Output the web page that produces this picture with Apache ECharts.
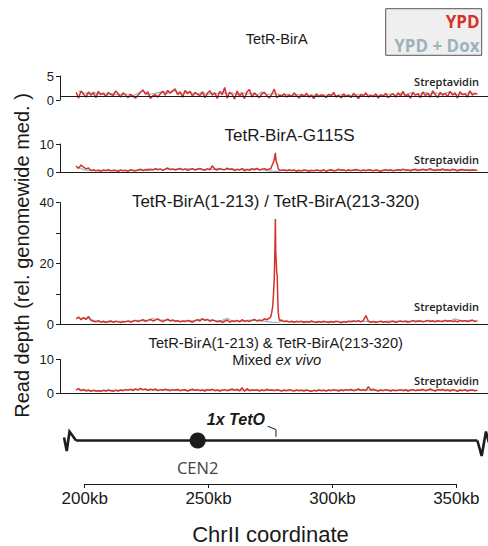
<!DOCTYPE html>
<html>
<head>
<meta charset="utf-8">
<script src="https://cdn.jsdelivr.net/npm/echarts@6/dist/echarts.min.js"></script>
<style>
  html, body { margin: 0; padding: 0; background: #fff; }
  #chart { width: 488px; height: 546px; }
</style>
</head>
<body>
<div id="chart"></div>
<script>
// ---- Read-depth tracks along ChrII (1 kb bins for YPD, 2 kb bins for YPD + Dox) ----
const ypdBinStartKb = 196.5, ypdBinStepKb = 1;
const doxBinStartKb = 197.5, doxBinStepKb = 2;

const panelTitles = ['TetR-BirA', 'TetR-BirA-G115S', 'TetR-BirA(1-213) / TetR-BirA(213-320)', 'TetR-BirA(1-213) & TetR-BirA(213-320)'];
const panelYMax = [5, 10, 40, 10];
const panelYStep = [5, 10, 10, 10];
const panelRefLevel = [0.7, 0, 0, 0];
const xTickLabelsKb = [200, 250, 300, 350];

const ypdBirA = [
  1.6, 0.4, 1.9, 1.2, 0.6, 1.7, 1.0, 1.5, 0.5, 1.8,
  1.1, 1.4, 0.7, 1.6, 1.2, 0.9, 1.9, 1.3, 0.6, 1.5,
  1.0, 0.5, 1.2, 0.8, 0.4, 1.0, 1.6, 2.1, 1.2, 1.7,
  0.3, 0.9, 1.1, 0.6, 1.3, 1.8, 1.0, 2.0, 1.4, 1.9,
  2.3, 1.1, 1.7, 0.6, 2.0, 1.3, 1.8, 0.8, 1.6, 1.2,
  0.9, 1.7, 0.5, 1.4, 1.9, 1.0, 1.5, 0.3, 1.8, 1.1,
  2.6, 0.4, 1.6, 1.2, 0.2, 1.9, 0.8, 1.4, 0.3, 1.7,
  2.2, 0.6, 1.5, 1.0, 0.5, 1.3, 1.6, 0.9, 0.4, 1.2,
  2.3, 0.5, 1.0, 0.8, 1.3, 0.6, 1.1, 0.7, 1.5, 0.9,
  0.4, 1.2, 0.8, 1.4, 0.6, 1.0, 0.3, 1.3, 0.7, 1.1,
  0.9, 0.5, 1.2, 0.8, 1.6, 0.6, 1.0, 0.4, 1.3, 0.7,
  1.1, 0.5, 1.4, 0.9, 0.3, 1.2, 0.8, 1.5, 0.6, 1.0,
  0.7, 1.3, 0.4, 1.1, 0.8, 1.4, 0.5, 1.0, 1.3, 0.6,
  1.5, 0.8, 1.8, 0.7, 1.2, 0.4, 1.6, 1.0, 1.3, 0.5,
  1.7, 0.9, 1.4, 0.6, 1.9, 1.1, 0.5, 1.6, 1.0, 1.4,
  0.7, 1.8, 1.0, 1.5, 0.4, 1.7, 1.1, 1.3, 0.6, 1.9,
  1.0, 1.4, 1.2
];
const doxBirA = [
  1.9, 1.5, 1.3, 1.6, 1.2, 1.5, 1.1, 1.4, 1.0, 1.3,
  1.2, 0.9, 1.4, 1.9, 1.1, 1.3, 1.5, 1.8, 1.4, 2.0,
  1.6, 1.3, 1.7, 1.4, 1.2, 1.6, 1.1, 1.5, 1.3, 1.7,
  1.3, 1.5, 1.1, 1.6, 1.2, 1.4, 1.0, 1.7, 1.1, 1.3,
  1.3, 1.0, 1.2, 0.9, 1.1, 1.0, 0.8, 1.1, 0.9, 1.0,
  1.0, 1.2, 0.9, 1.1, 1.0, 0.8, 1.1, 1.0, 1.2, 0.9,
  1.1, 0.9, 1.1, 1.3, 1.0, 1.4, 1.1, 1.5, 1.1, 1.3,
  1.6, 1.2, 1.5, 1.2, 1.4, 1.7, 1.1, 1.3, 1.2, 1.6,
  1.3
];

const ypdG115S = [
  2.2, 1.4, 2.6, 1.8, 1.2, 1.5, 0.6, 0.9, 0.5, 0.7,
  0.4, 0.8, 0.6, 0.9, 0.5, 0.7, 0.6, 0.3, 0.8, 0.5,
  0.7, 0.4, 0.9, 0.6, 0.5, 0.8, 1.1, 0.6, 0.9, 0.7,
  1.0, 0.8, 1.3, 0.9, 1.2, 0.7, 1.1, 1.5, 0.9, 1.2,
  0.8, 1.1, 1.4, 0.9, 1.2, 0.7, 1.0, 1.3, 0.8, 1.1,
  1.4, 1.0, 0.7, 1.2, 0.9, 2.3, 1.1, 0.8, 1.3, 1.0,
  0.9, 1.5, 1.0, 1.2, 0.6, 1.1, 0.8, 1.3, 0.5, 1.0,
  0.7, 1.2, 0.9, 1.4, 0.8, 1.1, 1.3, 0.9, 1.2, 1.0,
  1.0, 1.0, 1.0, 0.7, 0.8, 0.5, 0.9, 0.6, 0.8, 0.4,
  0.7, 0.5, 0.8, 0.6, 0.4, 0.7, 0.5, 0.8, 0.6, 0.5,
  0.8, 0.4, 0.7, 0.9, 0.5, 0.6, 1.1, 0.7, 0.8, 0.5,
  0.9, 0.6, 0.8, 1.0, 0.7, 0.5, 0.8, 0.6, 0.9, 0.7,
  0.5, 0.8, 0.6, 0.4, 0.7, 0.9, 0.6, 0.8, 0.5, 0.7,
  0.9, 0.6, 1.1, 0.7, 0.8, 0.5, 0.9, 1.0, 0.6, 0.8,
  1.1, 0.7, 0.9, 1.3, 0.8, 0.6, 1.0, 0.8, 1.2, 0.7,
  0.9, 0.6, 1.1, 0.8, 0.5, 0.9, 1.0, 0.7, 0.8, 0.6,
  0.9, 0.7, 0.8
];
const doxG115S = [
  1.8, 0.9, 0.7, 0.6, 0.8, 0.6, 0.7, 0.6, 0.8, 0.7,
  0.6, 0.8, 0.7, 0.9, 1.2, 1.0, 1.1, 0.9, 1.2, 1.0,
  1.1, 0.9, 1.3, 1.0, 1.1, 0.9, 1.2, 1.0, 1.4, 1.1,
  1.0, 1.2, 0.9, 1.1, 1.0, 1.3, 1.1, 0.9, 0.6, 0.4,
  0.3, 0.7, 0.8, 0.6, 0.7, 0.5, 0.8, 0.6, 0.7, 0.8,
  0.6, 0.8, 0.7, 0.9, 0.7, 0.6, 0.8, 0.7, 0.6, 0.8,
  0.7, 0.6, 0.8, 0.9, 0.7, 1.0, 0.8, 0.9, 1.1, 0.8,
  1.0, 0.8, 0.9, 0.7, 0.9, 0.8, 1.0, 0.7, 0.8, 0.9,
  0.8
];
// finer sampling across the TetO site
const peakKb = [275.1, 275.5, 275.9, 276.2, 276.5, 276.8, 276.95, 277.1, 277.3, 277.5, 277.7, 277.9, 278.1, 278.4, 278.8];
const peakG115S = [1.2, 2.2, 3.0, 3.6, 4.4, 6.0, 6.9, 5.2, 3.8, 3.4, 3.0, 2.0, 1.4, 1.0, 0.7];

const ypdSplit = [
  1.8, 2.4, 1.5, 2.2, 1.6, 2.6, 1.3, 1.0, 0.8, 1.2,
  0.7, 1.0, 0.6, 0.9, 1.1, 0.7, 1.0, 0.8, 0.6, 0.9,
  0.8, 1.1, 0.7, 1.0, 1.3, 0.9, 1.2, 1.5, 1.0, 1.3,
  1.6, 1.1, 1.4, 1.8, 1.2, 0.9, 1.3, 1.7, 1.1, 1.4,
  1.0, 1.2, 0.8, 1.1, 0.9, 1.3, 1.0, 0.7, 1.2, 1.5,
  1.1, 1.8, 1.3, 1.6, 1.0, 1.4, 1.2, 0.8, 1.1, 0.6,
  1.0, 1.4, 0.7, 1.1, 0.9, 1.3, 0.8, 1.5, 1.0, 1.2,
  0.9, 1.3, 1.6, 1.1, 1.4, 1.2, 1.8, 1.5, 2.0, 2.3,
  1.5, 1.2, 1.0, 1.4, 0.9, 1.1, 0.8, 1.0, 0.7, 0.9,
  0.8, 1.0, 0.6, 0.9, 0.7, 1.1, 0.8, 0.6, 0.9, 0.7,
  1.0, 0.8, 0.6, 0.9, 0.7, 1.0, 0.8, 0.5, 0.9, 0.7,
  1.0, 0.8, 1.1, 0.9, 1.2, 0.8, 1.3, 2.9, 1.0, 0.7,
  0.9, 0.6, 0.8, 1.0, 0.7, 0.9, 0.6, 0.8, 1.0, 0.7,
  0.9, 1.1, 0.8, 1.0, 0.7, 0.9, 1.2, 0.8, 1.0, 1.1,
  0.8, 1.0, 1.3, 0.9, 1.1, 0.8, 1.2, 1.0, 0.9, 1.3,
  1.0, 1.2, 0.9, 1.1, 0.8, 1.3, 1.0, 1.2, 0.9, 1.1,
  1.4, 0.9, 1.2
];
const doxSplit = [
  2.0, 1.9, 2.0, 1.3, 0.9, 0.8, 0.7, 0.9, 1.0, 0.9,
  1.0, 1.1, 1.3, 1.2, 1.4, 1.9, 1.5, 1.4, 1.3, 1.2,
  1.1, 1.0, 1.2, 1.1, 1.4, 1.8, 1.5, 1.3, 1.1, 1.3,
  2.0, 1.1, 1.2, 1.0, 1.3, 1.4, 1.2, 1.1, 0.9, 0.7,
  0.6, 1.0, 0.9, 0.8, 1.0, 0.9, 0.7, 0.8, 0.9, 0.8,
  0.9, 0.8, 1.0, 0.9, 0.8, 1.1, 1.0, 0.9, 1.0, 0.9,
  0.8, 1.0, 0.9, 1.1, 1.0, 0.9, 1.1, 1.0, 1.2, 1.1,
  1.0, 1.2, 1.1, 1.0, 1.3, 1.1, 1.8, 1.2, 1.1, 1.3,
  1.1
];
const peakSplit = [2.5, 4.0, 6.0, 10.0, 15.0, 26.0, 34.6, 24.0, 20.5, 17.0, 16.0, 9.0, 4.0, 2.0, 1.2];

const ypdMixed = [
  0.9, 1.3, 0.7, 1.1, 0.6, 0.9, 0.5, 0.8, 0.6, 0.7,
  0.5, 0.8, 0.6, 0.9, 0.7, 0.5, 0.8, 0.6, 0.9, 0.7,
  1.0, 0.8, 1.1, 0.7, 1.2, 0.9, 1.4, 1.0, 1.2, 0.8,
  1.1, 0.9, 1.2, 0.7, 1.0, 0.8, 1.1, 0.9, 0.7, 1.0,
  0.8, 1.1, 0.7, 0.9, 1.0, 0.6, 0.9, 1.1, 0.8, 1.0,
  0.7, 0.9, 0.6, 1.0, 0.8, 1.1, 0.7, 0.9, 0.6, 0.8,
  1.0, 0.7, 0.9, 1.2, 0.8, 1.1, 0.6, 1.6, 0.5, 1.3,
  0.7, 0.9, 0.8, 1.0, 0.6, 0.9, 0.7, 1.1, 0.8, 0.9,
  0.7, 1.0, 0.8, 0.6, 0.9, 0.7, 1.0, 0.8, 0.6, 0.9,
  0.7, 0.8, 0.6, 0.9, 0.7, 0.5, 0.8, 0.6, 0.9, 0.7,
  0.8, 0.6, 0.9, 0.7, 1.0, 0.8, 0.6, 0.9, 0.7, 1.0,
  0.8, 1.1, 0.7, 0.9, 1.2, 0.8, 1.0, 0.7, 1.9, 0.9,
  1.1, 0.8, 0.6, 0.9, 0.7, 1.0, 0.8, 0.6, 0.9, 0.7,
  0.8, 1.0, 0.7, 0.9, 0.6, 0.8, 1.0, 0.7, 0.9, 0.8,
  1.1, 0.7, 0.9, 1.2, 0.8, 0.6, 1.0, 0.8, 1.1, 0.7,
  0.9, 0.6, 1.0, 0.8, 0.5, 0.9, 0.7, 1.0, 0.6, 0.8,
  0.9, 0.7, 0.8
];
const doxMixed = [
  0.9, 0.8, 0.7, 0.8, 0.7, 0.8, 0.7, 0.9, 0.8, 0.9,
  1.0, 1.1, 1.0, 0.9, 1.0, 0.9, 0.8, 0.9, 1.0, 0.9,
  0.8, 0.9, 0.8, 0.9, 0.8, 0.9, 1.0, 0.9, 0.8, 0.9,
  0.9, 1.0, 0.8, 0.9, 0.8, 0.9, 0.8, 0.9, 0.8, 0.9,
  0.8, 0.7, 0.8, 0.7, 0.8, 0.9, 0.8, 0.7, 0.8, 0.9,
  0.8, 0.9, 0.8, 1.0, 0.9, 0.8, 0.9, 0.8, 0.9, 0.8,
  0.8, 0.9, 0.8, 0.9, 0.8, 0.9, 1.0, 0.9, 0.8, 0.9,
  0.8, 0.9, 0.8, 0.9, 0.8, 0.9, 0.8, 0.9, 0.8, 0.9,
  0.8
];

// ---- Chromosome schematic features (kb) ----
const chromSpanKb = [196.5, 358.5];
const cen2Kb = 245.6;
const tetOKb = 277.2;

// ---- helpers ----
function binned(values, startKb, stepKb) {
  return values.map((v, i) => [startKb + i * stepKb, v]);
}
function withPeak(pairs, kbs, vals) {
  if (!kbs) return pairs;
  const lo = kbs[0], hi = kbs[kbs.length - 1];
  return pairs.filter(p => p[0] < lo || p[0] > hi)
    .concat(kbs.map((k, i) => [k, vals[i]]))
    .sort((a, b) => a[0] - b[0]);
}

const ypdTracks = [
  binned(ypdBirA, ypdBinStartKb, ypdBinStepKb),
  withPeak(binned(ypdG115S, ypdBinStartKb, ypdBinStepKb), peakKb, peakG115S),
  withPeak(binned(ypdSplit, ypdBinStartKb, ypdBinStepKb), peakKb, peakSplit),
  binned(ypdMixed, ypdBinStartKb, ypdBinStepKb)
];
const doxTracks = [doxBirA, doxG115S, doxSplit, doxMixed].map(v => binned(v, doxBinStartKb, doxBinStepKb));

const RED = '#d4322a';
const GRAY = '#9db3bb';
const INK = '#1a1a1a';
const SANS = '"Liberation Sans", Arial, Helvetica, sans-serif';
const MYRIAD = '"Open Sans", "Liberation Sans", sans-serif';

// panel frames (px)
const panelTop = [76, 144, 202.7, 359.5];
const panelBottom = [100, 172.3, 324.3, 393];
const plotLeft = 60, plotWidth = 428;
const xMinKb = 190, xMaxKb = 362.8;

const grid = [], xAxis = [], yAxis = [], series = [];
for (let i = 0; i < 4; i++) {
  grid.push({ left: plotLeft, top: panelTop[i], width: plotWidth, height: panelBottom[i] - panelTop[i] });
  xAxis.push({ gridIndex: i, type: 'value', min: xMinKb, max: xMaxKb, show: false });
  yAxis.push({
    gridIndex: i, type: 'value', min: 0, max: panelYMax[i], interval: panelYStep[i],
    axisLine: { show: true, lineStyle: { color: INK, width: 1 } },
    axisTick: { show: true, length: 4, lineStyle: { color: INK, width: 1 } },
    splitLine: { show: false },
    axisLabel: {
      margin: 6, fontSize: 13, fontFamily: SANS, color: INK,
      formatter: v => (i === 2 && v % 20 !== 0) ? '' : String(v)
    }
  });
  series.push({
    name: 'YPD + Dox', type: 'line', xAxisIndex: i, yAxisIndex: i, data: doxTracks[i],
    showSymbol: false, symbol: 'none', lineStyle: { color: GRAY, width: 1.2 }, z: 2, animation: false
  });
  series.push({
    name: 'YPD', type: 'line', xAxisIndex: i, yAxisIndex: i, data: ypdTracks[i],
    showSymbol: false, symbol: 'none', lineStyle: { color: RED, width: 1.5 }, z: 3, animation: false
  });
  series.push({
    type: 'line', xAxisIndex: i, yAxisIndex: i, data: [], z: 4, animation: false,
    markLine: {
      silent: true, symbol: ['none', 'none'], animation: false,
      label: { show: false },
      lineStyle: { color: INK, width: 1, type: 'solid' },
      data: [{ yAxis: panelRefLevel[i] }]
    }
  });
}

// coordinate axis + schematic
grid.push({ left: 84.7, top: 400, width: 371.6, height: 85 });
xAxis.push({
  gridIndex: 4, type: 'value', min: xTickLabelsKb[0], max: xTickLabelsKb[xTickLabelsKb.length - 1], interval: 50,
  position: 'bottom',
  axisLine: { show: true, onZero: false, lineStyle: { color: INK, width: 1 } },
  axisTick: { show: true, length: 4, lineStyle: { color: INK } },
  splitLine: { show: false },
  axisLabel: { margin: 6, fontSize: 17, fontFamily: SANS, color: INK, formatter: '{value}kb' },
  name: 'ChrII coordinate', nameLocation: 'middle', nameGap: 39,
  nameTextStyle: { fontSize: 22, fontFamily: SANS, color: INK }
});
yAxis.push({ gridIndex: 4, type: 'value', min: -44, max: 41, show: false });

series.push({
  type: 'custom', xAxisIndex: 4, yAxisIndex: 4, clip: false, animation: false, silent: true,
  data: [[chromSpanKb[0], chromSpanKb[1], cen2Kb, tetOKb]],
  renderItem: function (params, api) {
    const a = api.coord([api.value(0), 0]);
    const b = api.coord([api.value(1), 0]);
    const c = api.coord([api.value(2), 0]);
    const t = api.coord([api.value(3), 0]);
    const stroke = { stroke: '#1c1c1c', lineWidth: 2.6, fill: null, lineJoin: 'miter' };
    const rel = (p, pts) => pts.map(q => [p[0] + q[0], p[1] + q[1]]);
    return {
      type: 'group',
      children: [
        { type: 'line', shape: { x1: a[0], y1: a[1], x2: b[0], y2: b[1] }, style: stroke },
        { type: 'polyline', shape: { points: rel(a, [[0, 0], [-6.5, -9], [-9.3, 10.5], [-12, -3]]) }, style: stroke },
        { type: 'polyline', shape: { points: rel(b, [[0, 0], [4.3, 15.5], [8.6, -9], [11.5, 2]]) }, style: stroke },
        { type: 'circle', shape: { cx: c[0], cy: c[1], r: 8 }, style: { fill: '#1c1c1c' } },
        { type: 'text', x: c[0], y: c[1] + 27, style: { text: 'CEN2', fill: '#444', fontSize: 16.5, fontFamily: MYRIAD, align: 'center', verticalAlign: 'middle' } },
        { type: 'polyline', shape: { points: rel(t, [[-8.3, -14.3], [0, -11], [0, -3.7]]) }, style: { stroke: '#1c1c1c', lineWidth: 1, fill: null } },
        { type: 'text', x: t[0] - 11, y: t[1] - 21, style: { text: '1x TetO', fill: INK, fontSize: 16, fontStyle: 'italic', fontWeight: 'bold', fontFamily: SANS, align: 'right', verticalAlign: 'middle' } }
      ]
    };
  }
});

// titles, axis title, legend and stain labels
const txt = (x, y, text, style) => ({
  type: 'text', x: x, y: y, silent: true,
  style: Object.assign({ text: text, fill: INK, fontFamily: SANS, align: 'center', verticalAlign: 'middle' }, style)
});
const stainStyle = { fontSize: 11, fontWeight: 600, fontFamily: MYRIAD, fill: '#222', align: 'right' };
const graphic = [
  txt(276.7, 39, panelTitles[0], { fontSize: 14.5 }),
  txt(289.5, 135, panelTitles[1], { fontSize: 17 }),
  txt(275.8, 201.7, panelTitles[2], { fontSize: 17 }),
  txt(275.8, 343.3, panelTitles[3], { fontSize: 14.7 }),
  txt(276.7, 360, '{n|Mixed }{i|ex vivo}', {
    fontSize: 14.7,
    rich: { n: { fontSize: 14.7, fontFamily: SANS, fill: INK }, i: { fontSize: 14.7, fontFamily: SANS, fontStyle: 'italic', fill: INK } }
  }),
  Object.assign(txt(22, 255.5, 'Read depth (rel. genomewide med. )', { fontSize: 20 }), { rotation: Math.PI / 2 }),
  txt(479, 81.3, 'Streptavidin', stainStyle),
  txt(479, 159, 'Streptavidin', stainStyle),
  txt(479, 306, 'Streptavidin', stainStyle),
  txt(479, 380, 'Streptavidin', stainStyle),
  { type: 'rect', shape: { x: 385.7, y: 8.7, width: 96, height: 46.6 }, style: { fill: '#efefef', stroke: '#555', lineWidth: 1 }, silent: true },
  txt(479.5, 21, 'YPD', { fontSize: 17, fontWeight: 'bold', fontFamily: MYRIAD, fill: RED, align: 'right' }),
  txt(479.5, 45, 'YPD + Dox', { fontSize: 17, fontWeight: 'bold', fontFamily: MYRIAD, fill: GRAY, align: 'right' })
];

const chart = echarts.init(document.getElementById('chart'), null, { renderer: 'svg' });
chart.setOption({
  animation: false,
  backgroundColor: '#fff',
  grid: grid, xAxis: xAxis, yAxis: yAxis, series: series, graphic: graphic
});
</script>
</body>
</html>
